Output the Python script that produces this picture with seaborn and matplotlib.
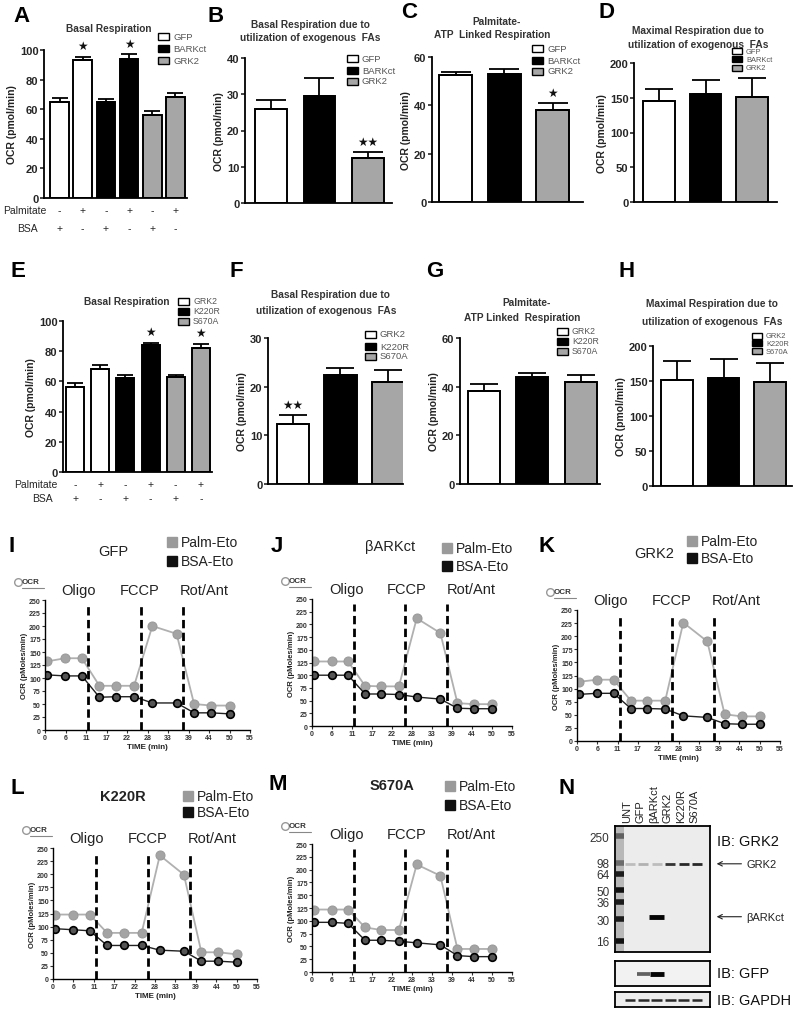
import numpy as np
import pandas as pd
import matplotlib
matplotlib.use("Agg")
import matplotlib.pyplot as plt
import matplotlib.transforms as mtransforms
from matplotlib.patches import Rectangle
from matplotlib.lines import Line2D
import seaborn as sns

# ---------------- data ----------------
legend_ad = ["GFP", "BARKct", "GRK2"]
legend_eh = ["GRK2", "K220R", "S670A"]
palmitate_signs = ["-", "+", "-", "+", "-", "+"]
bsa_signs = ["+", "-", "+", "-", "+", "-"]

a_means = [65, 93, 65, 94, 56, 68]
a_sem = [2.5, 2.5, 2.0, 3.0, 3.0, 3.0]
b_means = [26.0, 29.5, 12.3]
b_sem = [2.5, 5.0, 1.8]
c_means = [52.5, 53.0, 38.0]
c_sem = [1.5, 2.0, 3.0]
d_means = [145, 156, 151]
d_sem = [18, 20, 27]
e_means = [56, 68, 62, 84, 63, 82]
e_sem = [3.0, 3.0, 2.0, 1.5, 1.5, 3.0]
f_means = [12.3, 22.5, 21.0]
f_sem = [1.8, 1.3, 2.5]
g_means = [38.3, 44.0, 42.0]
g_sem = [2.7, 1.8, 3.0]
h_means = [151, 155, 149]
h_sem = [27, 26, 27]

time_min = [0.6, 5.4, 9.9, 14.6, 19.1, 23.9, 28.8, 35.3, 40.0, 44.6, 49.6]
injection_min = [11.6, 25.7, 37.0]
injection_labels = ["Oligo", "FCCP", "Rot/Ant"]
time_ticks = [0, 5.5, 11, 16.5, 22, 27.5, 33, 38.5, 44, 49.5, 55]
time_tick_labels = ["0", "6", "11", "17", "22", "28", "33", "39", "44", "50", "55"]

gfp_palm = [132, 138, 138, 85, 85, 85, 200, 185, 50, 47, 47]
gfp_bsa = [106, 104, 104, 63, 64, 64, 52, 52, 33, 33, 31]
barkct_palm = [127, 127, 127, 79, 78, 78, 212, 183, 45, 43, 43]
barkct_bsa = [100, 100, 100, 63, 63, 62, 57, 53, 35, 34, 34]
grk2_palm = [113, 117, 117, 77, 77, 77, 226, 190, 51, 47, 47]
grk2_bsa = [89, 91, 91, 62, 62, 61, 48, 45, 33, 32, 32]
k220r_palm = [123, 123, 123, 88, 88, 88, 236, 199, 51, 51, 47]
k220r_bsa = [96, 94, 92, 64, 64, 64, 55, 53, 34, 34, 32]
s670a_palm = [122, 122, 122, 87, 82, 82, 210, 188, 45, 45, 45]
s670a_bsa = [97, 97, 95, 62, 62, 60, 57, 53, 32, 30, 30]

lane_labels = ["UNT", "GFP", "βARKct", "GRK2", "K220R", "S670A"]
marker_kda = ["250", "98", "64", "50", "36", "30", "16"]
# relative migration distance (0 = top of gel, 1 = bottom)
marker_migration = [0.08, 0.29, 0.38, 0.51, 0.60, 0.74, 0.91]
marker_intensity = [0.6, 0.55, 0.9, 0.95, 0.9, 0.9, 0.95]
grk2_band_migration = 0.30
barkct_band_migration = 0.72
grk2_band = [0.2, 0.25, 0.2, 0.8, 0.85, 0.85]
barkct_band = [0.0, 0.0, 1.0, 0.0, 0.0, 0.0]
gfp_band = [0.0, 0.6, 1.0, 0.0, 0.0, 0.0]
gapdh_band = [0.85, 0.85, 0.85, 0.85, 0.85, 0.85]

# ---------------- style ----------------
sns.set_theme(style="ticks")
plt.rcParams["font.family"] = ["Liberation Sans", "DejaVu Sans"]
plt.rcParams["axes.edgecolor"] = "black"

W, H = 800, 1020
fig = plt.figure(figsize=(8, 10.2), dpi=100, facecolor="white")
GRAY = "#a6a6a6"


def fx(x):
    return x / W


def fy(y):
    return 1 - y / H


def add_ax(l, t, r, b):
    return fig.add_axes([fx(l), fy(b), (r - l) / W, (b - t) / H])


def txt(x, y, s, **kw):
    fig.text(fx(x), fy(y), s, **kw)


def letter(x, y, s):
    txt(x, y, s, fontsize=16, fontweight="bold", ha="center", va="center", color="black")


def bar_panel(rect, means, sems, colors, ymax, ystep, xlim, width, capsize, stars=(), star="★"):
    ax = add_ax(*rect)
    cats = [str(i) for i in range(len(means))]
    df = pd.DataFrame({"grp": cats, "ocr": means})
    sns.barplot(data=df, x="grp", y="ocr", hue="grp", palette=dict(zip(cats, colors)),
                legend=False, saturation=1, width=width, edgecolor="black",
                linewidth=1.4, ax=ax)
    pos = np.arange(len(means))
    ax.errorbar(pos, means, yerr=[np.zeros(len(means)), sems], fmt="none",
                ecolor="black", elinewidth=1.3, capsize=capsize, capthick=1.3)
    for i in stars:
        ax.text(i, means[i] + sems[i] + 0.075 * ymax, star, ha="center", va="center",
                fontsize=8.5, family="DejaVu Sans", color="#111", clip_on=False)
    ax.set_xlim(*xlim)
    ax.set_ylim(0, ymax)
    ax.set_yticks(np.arange(0, ymax + 1, ystep))
    ax.set_xticks([])
    ax.set_xlabel("")
    ax.set_ylabel("OCR (pmol/min)", fontsize=7.5, fontweight="bold", labelpad=2, color="#222")
    sns.despine(ax=ax)
    for s in ["left", "bottom"]:
        ax.spines[s].set_linewidth(1.3)
    ax.tick_params(axis="y", length=3, width=1.2, labelsize=8, pad=1)
    for lab in ax.get_yticklabels():
        lab.set_fontweight("bold")
    return ax


def bar_legend(x, ys, labels, colors, fs=6.8, bw=11, bh=7):
    for y, lab, col in zip(ys, labels, colors):
        fig.add_artist(Rectangle((fx(x), fy(y + bh / 2)), bw / W, bh / H,
                                 transform=fig.transFigure, fc=col, ec="black", lw=1))
        txt(x + bw + 4, y, lab, fontsize=fs, color="#555", va="center")


def titles(lines):
    for (x, y, s) in lines:
        txt(x, y, s, fontsize=7.3, fontweight="bold", ha="center", va="center", color="#333")


def sign_rows(ax, y_pal, y_bsa, x_pal, x_bsa):
    trans = mtransforms.blended_transform_factory(ax.transData, fig.transFigure)
    for i, (p, b) in enumerate(zip(palmitate_signs, bsa_signs)):
        ax.text(i, fy(y_pal), p, transform=trans, ha="center", va="center", fontsize=7.5)
        ax.text(i, fy(y_bsa), b, transform=trans, ha="center", va="center", fontsize=7.5)
    txt(x_pal, y_pal, "Palmitate", fontsize=7.5, ha="right", va="center")
    txt(x_bsa, y_bsa, "BSA", fontsize=7.5, ha="right", va="center")


cols6 = ["white", "white", "black", "black", GRAY, GRAY]
cols3 = ["white", "black", GRAY]

# ---------------- row 1 ----------------
axA = bar_panel((44, 51, 187, 199), a_means, a_sem, cols6, 100, 20, (-0.67, 5.5), 0.8, 6, stars=(1, 3))
sign_rows(axA, 211, 229, 46, 38)
titles([(109, 29, "Basal Respiration")])
bar_legend(158, [37, 49, 61], legend_ad, cols3)
letter(21, 17, "A")

axB = bar_panel((245, 59, 392, 204), b_means, b_sem, cols3, 40, 10, (-0.54, 2.5), 0.66, 11, stars=(2,), star="★★")
titles([(310, 25, "Basal Respiration due to"), (310, 38, "utilization of exogenous  FAs")])
bar_legend(347, [59, 71, 82], legend_ad, cols3)
letter(216, 17, "B")

axC = bar_panel((432, 58, 583, 203), c_means, c_sem, cols3, 60, 20, (-0.49, 2.62), 0.68, 11, stars=(2,))
titles([(497, 22, "Palmitate-"), (492, 35, "ATP  Linked Respiration")])
bar_legend(532, [49, 61, 72], legend_ad, cols3)
letter(409, 13, "C")

axD = bar_panel((634, 64, 777, 203), d_means, d_sem, cols3, 200, 50, (-0.54, 2.54), 0.68, 10)
titles([(698, 31, "Maximal Respiration due to"), (698, 45, "utilization of exogenous  FAs")])
bar_legend(732, [52, 60, 69], legend_ad, cols3, fs=5.4, bw=10, bh=6)
letter(607, 12, "D")

# ---------------- row 2 ----------------
axE = bar_panel((63, 322, 212, 473), e_means, e_sem, cols6, 100, 20, (-0.48, 5.44), 0.72, 6, stars=(3, 5))
sign_rows(axE, 485, 499, 58, 53)
titles([(127, 302, "Basal Respiration")])
bar_legend(178, [302, 312, 322], legend_eh, cols3, fs=6.3)
letter(18, 272, "E")

axF = bar_panel((268, 339, 403, 485), f_means, f_sem, cols3, 30, 10, (-0.53, 2.32), 0.69, 10, stars=(0,), star="★★")
titles([(330, 295, "Basal Respiration due to"), (326, 311, "utilization of exogenous  FAs")])
bar_legend(365, [335, 347, 357], legend_eh, cols3)
letter(236, 272, "F")

axG = bar_panel((460, 339, 600, 485), g_means, g_sem, cols3, 60, 20, (-0.49, 2.4), 0.66, 10)
titles([(527, 303, "Palmitate-"), (522, 318, "ATP Linked  Respiration")])
bar_legend(557, [332, 342, 352], legend_eh, cols3, fs=6.3)
letter(435, 272, "G")

axH = bar_panel((653, 347, 792, 487), h_means, h_sem, cols3, 200, 50, (-0.52, 2.47), 0.68, 10)
titles([(712, 304, "Maximal Respiration due to"), (712, 322, "utilization of exogenous  FAs")])
bar_legend(752, [337, 344, 352], legend_eh, cols3, fs=5.4, bw=10, bh=6)
letter(627, 272, "H")


# ---------------- seahorse traces ----------------
def line_panel(rect, palm, bsa, title, title_off, leg_x, leg_ys, title_bold=False):
    l, t, r, b = rect
    ax = add_ax(*rect)
    sns.lineplot(x=time_min, y=palm, ax=ax, color="#b0b0b0", lw=1.3, marker="o",
                 markersize=6.5, markerfacecolor="#a4a4a4", markeredgecolor="#9a9a9a")
    sns.lineplot(x=time_min, y=bsa, ax=ax, color="#222222", lw=1.0, marker="o",
                 markersize=5.5, markerfacecolor="#555555", markeredgecolor="#000000",
                 markeredgewidth=1.2)
    ax.vlines(injection_min, 0, 240, colors="black", linestyles=(0, (3, 1.6)), lw=2)
    ax.set_xlim(0, 55)
    ax.set_ylim(0, 250)
    ax.set_xticks(time_ticks)
    ax.set_xticklabels(time_tick_labels)
    ax.set_yticks(np.arange(0, 251, 25))
    sns.despine(ax=ax)
    for s in ["left", "bottom"]:
        ax.spines[s].set_linewidth(1.0)
    ax.tick_params(length=2, width=0.8, labelsize=5, pad=1, colors="#333")
    for lab in ax.get_xticklabels() + ax.get_yticklabels():
        lab.set_fontweight("bold")
    ax.set_xlabel("TIME (min)", fontsize=5.8, fontweight="bold", labelpad=1, color="#222")
    ax.set_ylabel("OCR (pMoles/min)", fontsize=5.5, fontweight="bold", labelpad=1, color="#222")

    txt(l + title_off[0], t + title_off[1], title, fontsize=10.5, ha="center", va="center",
        color="#222", fontweight="bold" if title_bold else "normal")
    for lab, col, yo in zip(["Palm-Eto", "BSA-Eto"], ["#9a9a9a", "#111111"], leg_ys):
        x0, y0 = l + leg_x, t + yo
        fig.add_artist(Rectangle((fx(x0), fy(y0 + 5)), 10 / W, 10 / H,
                                 transform=fig.transFigure, fc=col, ec=col))
        txt(x0 + 14, y0, lab, fontsize=10, va="center", color="#222")
    ox, oy = l - 27, t - 18
    fig.add_artist(Line2D([fx(ox)], [fy(oy)], marker="o", ms=5.5, mfc="white", mec="#999",
                          mew=1, transform=fig.transFigure))
    txt(ox + 4, oy, "OCR", fontsize=5.8, fontweight="bold", va="center", color="#333")
    fig.add_artist(Line2D([fx(ox + 4), fx(ox + 26)], [fy(oy + 6)] * 2, color="#888", lw=0.8,
                          transform=fig.transFigure))
    for lab, xo in zip(injection_labels, [34, 95, 159]):
        txt(l + xo, t - 10, lab, fontsize=10.5, ha="center", va="center", color="#222")
    return ax


line_panel((45, 601, 250, 731), gfp_palm, gfp_bsa, "GFP", (68, -49), 122, (-58, -39))
letter(12, 547, "I")
line_panel((312, 600, 512, 727), barkct_palm, barkct_bsa, "βARKct", (78, -53), 130, (-51, -33))
letter(277, 547, "J")
line_panel((577, 611, 780, 742), grk2_palm, grk2_bsa, "GRK2", (77, -57), 110, (-69, -52))
letter(547, 547, "K")
line_panel((53, 849, 257, 980), k220r_palm, k220r_bsa, "K220R", (70, -52), 130, (-52, -36), True)
letter(17, 789, "L")
line_panel((312, 845, 512, 973), s670a_palm, s670a_bsa, "S670A", (80, -59), 133, (-58, -39), True)
letter(278, 785, "M")

# ---------------- western blot ----------------
lanes = np.arange(1, 7)
ladder_x = 0.25


def band_color(v):
    g = 0.92 - 0.9 * v
    return (g, g, g)


axb = add_ax(615, 827, 710, 953)
axb.set_facecolor("#ececec")
axb.set_xlim(-0.12, 6.97)
axb.set_ylim(1, 0)
axb.axvspan(ladder_x - 0.3, ladder_x + 0.3, color="#b8b8b8", lw=0)
axb.hlines(marker_migration, ladder_x - 0.3, ladder_x + 0.3,
           colors=[band_color(v) for v in marker_intensity], lw=4)
axb.hlines([grk2_band_migration] * 6, lanes - 0.38, lanes + 0.38,
           colors=[band_color(v) for v in grk2_band], lw=2)
for ln, v in zip(lanes, barkct_band):
    if v > 0:
        axb.hlines(barkct_band_migration, ln - 0.55, ln + 0.55, colors=[band_color(v)], lw=3.5)
axb.set_xticks([])
axb.set_yticks(marker_migration)
axb.set_yticklabels(marker_kda)
axb.tick_params(axis="y", length=0, labelsize=8.5, pad=4, colors="#333")
for s in axb.spines.values():
    s.set_visible(True)
    s.set_linewidth(1.3)
for ln, lab in zip(lanes, lane_labels):
    axb.text(ln - 0.2, 1.03, lab, transform=axb.get_xaxis_transform(), rotation=90,
             ha="center", va="bottom", fontsize=8, color="#222")
for lab, mig in [("GRK2", grk2_band_migration), ("βARKct", barkct_band_migration)]:
    axb.annotate(lab, xy=(1.07, mig), xycoords=("axes fraction", "data"),
                 xytext=(1.38, mig), textcoords=("axes fraction", "data"),
                 ha="left", va="center", fontsize=8, color="#222",
                 arrowprops=dict(arrowstyle="->", lw=0.8, color="#222", shrinkA=1, shrinkB=0))

axg = add_ax(615, 962, 710, 987)
axg.set_facecolor("#f2f2f2")
axg.set_xlim(-0.12, 6.97)
axg.set_ylim(0, 1)
for ln, v in zip(lanes, gfp_band):
    if v > 0:
        axg.hlines(0.5, ln - 0.4 - 0.1 * v, ln + 0.4 + 0.1 * v, colors=[band_color(v)], lw=1.5 + 2 * v)

axgap = add_ax(615, 993, 710, 1008)
axgap.set_facecolor("#ececec")
axgap.set_xlim(-0.12, 6.97)
axgap.set_ylim(0, 1)
axgap.hlines([0.5] * 6, lanes - 0.4, lanes + 0.4, colors=[band_color(v) for v in gapdh_band], lw=1.8)
for a in (axg, axgap):
    a.set_xticks([])
    a.set_yticks([])
    for s in a.spines.values():
        s.set_visible(True)
        s.set_linewidth(1.3)

txt(717, 842, "IB: GRK2", fontsize=10.5, va="center", color="#111")
txt(717, 974, "IB: GFP", fontsize=10.5, va="center", color="#111")
txt(717, 1001, "IB: GAPDH", fontsize=10.5, va="center", color="#111")
letter(567, 789, "N")

fig.savefig("out.png", dpi=100, facecolor="white")
